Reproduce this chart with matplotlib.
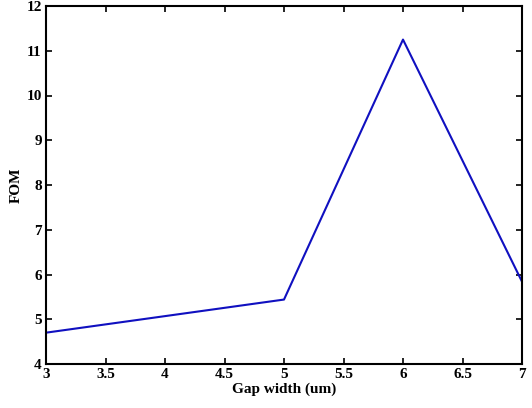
import matplotlib
matplotlib.use("Agg")
import matplotlib.pyplot as plt

gap_width = [3, 5, 6, 7]
fom = [4.70, 5.44, 11.25, 5.84]
xticks = [3, 3.5, 4, 4.5, 5, 5.5, 6, 6.5, 7]
yticks = [4, 5, 6, 7, 8, 9, 10, 11, 12]

plt.rcParams['font.family'] = ['Liberation Serif', 'DejaVu Serif']
plt.rcParams['font.weight'] = 'bold'

fig = plt.figure(figsize=(5.32, 4.08), dpi=100)
ax = fig.add_axes([46/532, 44/408, 476/532, 358/408])
ax.plot(gap_width, fom, color='#1010c0', linewidth=1.5)
ax.set_xlim(3, 7)
ax.set_ylim(4, 12)
ax.set_xticks(xticks)
ax.set_xticklabels([f"{t:g}" for t in xticks])
ax.set_yticks(yticks)
ax.set_yticklabels([f"{t:g}" for t in yticks])
ax.tick_params(direction='in', top=True, right=True, labelsize=11, length=4, width=1.2, pad=3)
for s in ax.spines.values():
    s.set_linewidth(1.5)
ax.set_xlabel('Gap width (um)', fontsize=11, fontweight='bold', labelpad=1)
ax.set_ylabel('FOM', fontsize=11, fontweight='bold', labelpad=3)
fig.savefig('out.png', dpi=100)
